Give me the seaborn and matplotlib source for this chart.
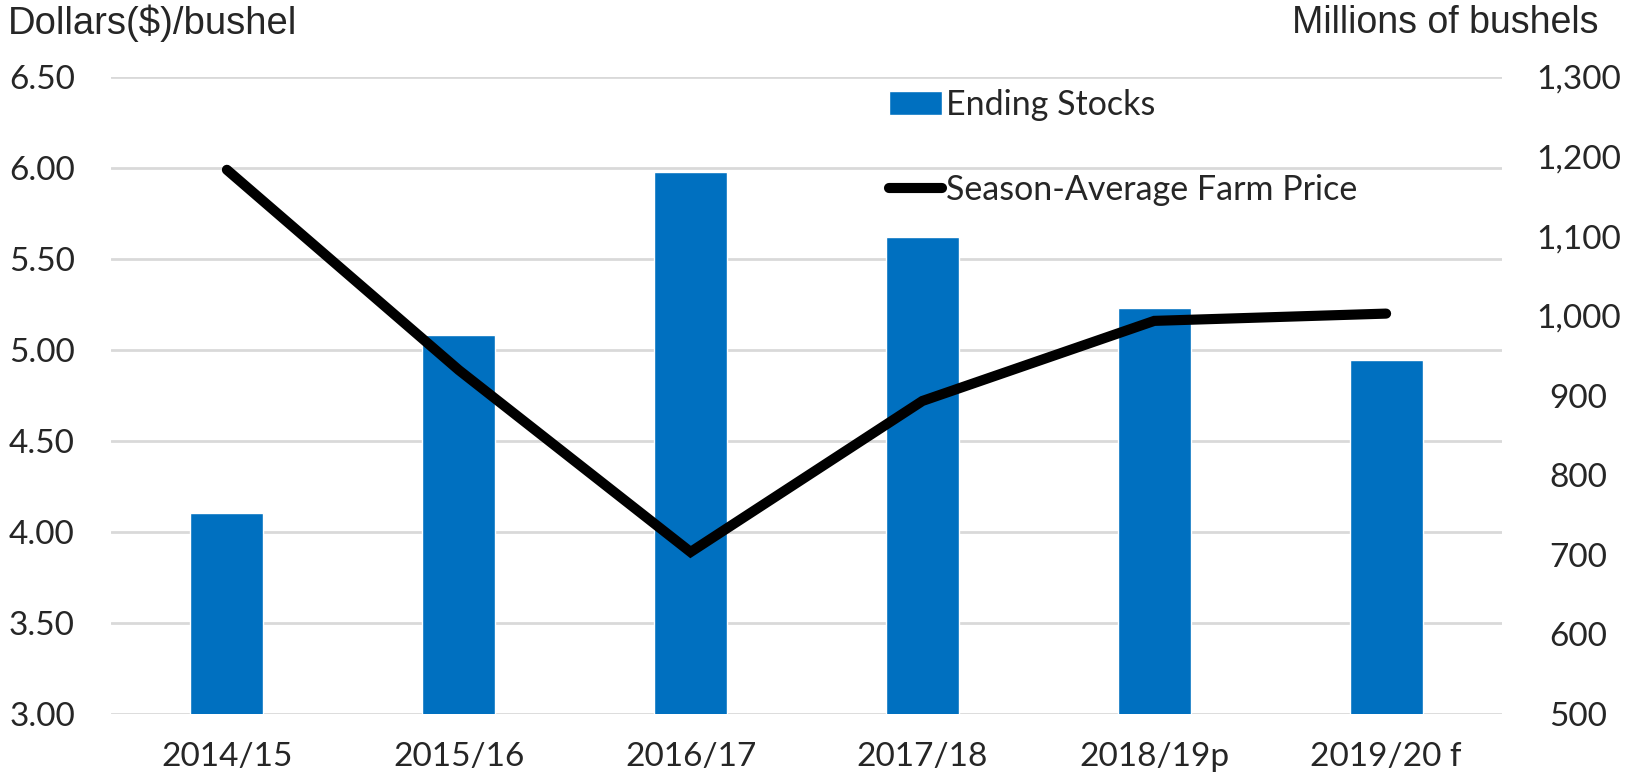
import matplotlib
matplotlib.use('Agg')
import matplotlib.pyplot as plt
import seaborn as sns
import pandas as pd

# Dados
anos = ['2014/15', '2015/16', '2016/17', '2017/18', '2018/19p', '2019/20 f']
estoques = [753, 976, 1181, 1099, 1010, 945]
precos = [5.99, 4.89, 3.89, 4.72, 5.16, 5.20]
ticks_esq = [3.0, 3.5, 4.0, 4.5, 5.0, 5.5, 6.0, 6.5]
ticks_dir = [500, 600, 700, 800, 900, 1000, 1100, 1200, 1300]

df = pd.DataFrame({'Ano': anos, 'Estoques': estoques, 'Preco': precos})

sns.set_style('white')
plt.rcParams['font.family'] = ['Lato', 'DejaVu Sans']

fig = plt.figure(figsize=(16.36, 7.84), dpi=100)
ax = fig.add_axes([111 / 1636, 1 - 714 / 784, (1502 - 111) / 1636, (714 - 77) / 784])
ax2 = ax.twinx()

# Barras no eixo direito
sns.barplot(data=df, x='Ano', y='Estoques', color='#0070C0', width=0.315,
            saturation=1, ax=ax2, label='Ending Stocks', zorder=2)
ax2.set_ylim(500, 1300)
ax2.set_yticks(ticks_dir)
ax2.set_yticklabels([f'{t:,}' for t in ticks_dir], fontsize=24)
ax2.tick_params(axis='y', length=0, pad=55)
ax2.set_ylabel('')
ax2.set_xlabel('')

# Linha no eixo esquerdo, desenhada por cima
ax.set_zorder(ax2.get_zorder() + 1)
ax.patch.set_visible(False)
sns.lineplot(data=df, x='Ano', y='Preco', color='black', lw=7.3, ax=ax,
             label='Season-Average Farm Price', sort=False,
             solid_capstyle='round', solid_joinstyle='miter')
ax.set_ylim(3.0, 6.5)
ax.set_yticks(ticks_esq)
ax.set_yticklabels([f'{t:.2f}' for t in ticks_esq], fontsize=24)
ax.tick_params(axis='y', length=0, pad=26)
ax.tick_params(axis='x', length=0, pad=20, labelsize=24)
ax.set_xlim(-0.5, 5.5)
ax.set_xlabel('')
ax.set_ylabel('')
ax2.yaxis.grid(False)
ax2.xaxis.grid(False)
for t in ticks_esq:
    ax2.axhline(500 + (t - 3.0) / 3.5 * 800, color='#d9d9d9', lw=2, zorder=0)

for a in (ax, ax2):
    for s in a.spines.values():
        s.set_visible(False)

if ax.get_legend():
    ax.get_legend().remove()
if ax2.get_legend():
    ax2.get_legend().remove()

h1, l1 = ax2.get_legend_handles_labels()
h2, l2 = ax.get_legend_handles_labels()
fig.legend(h1 + h2, l1 + l2, loc='upper left', bbox_to_anchor=(889 / 1636, 1 - 89 / 784),
           frameon=False, fontsize=24.5, handlelength=1.55, handletextpad=0.12,
           labelspacing=1.55, borderpad=0, borderaxespad=0)

fig.text(8 / 1636, 1 - 23 / 784, 'Dollars($)/bushel', fontsize=27.5,
         family='Liberation Sans', va='center', ha='left')
fig.text(1599 / 1636, 1 - 23 / 784, 'Millions of bushels', fontsize=27,
         family='Liberation Sans', va='center', ha='right')

plt.setp(ax2.get_yticklabels(), ha='center')

fig.savefig('out.png', dpi=100)
